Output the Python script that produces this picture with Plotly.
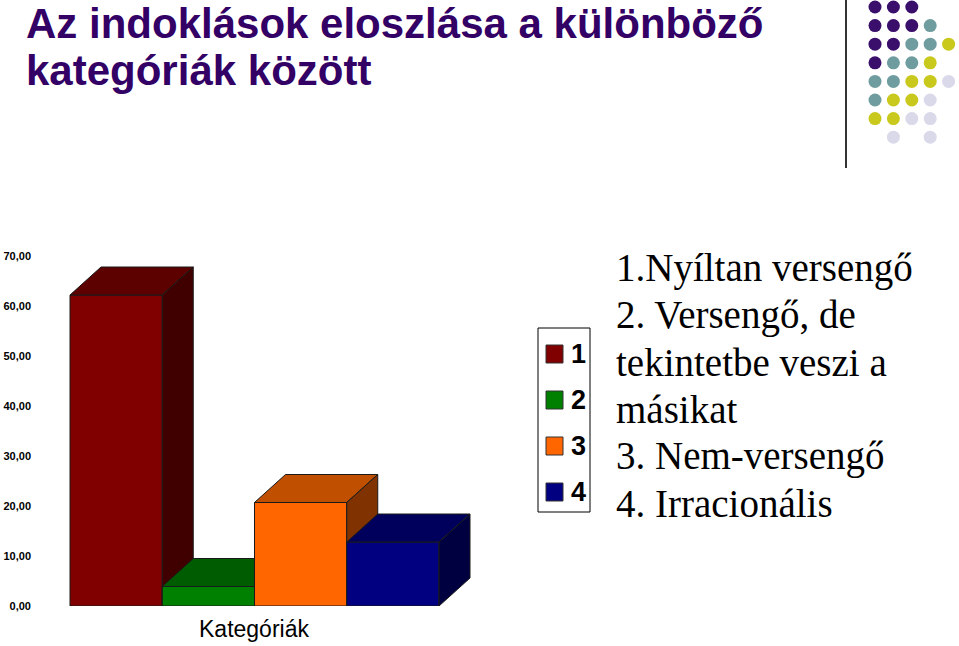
import plotly.graph_objects as go

# adatok
categories = ["1", "2", "3", "4"]
values = [62.2, 3.9, 20.7, 12.8]
front_colors = ["#800000", "#008000", "#ff6600", "#000080"]
top_colors = ["#5c0000", "#005c00", "#c04f00", "#00005c"]
side_colors = ["#400000", "#004000", "#803300", "#000040"]
y_ticks = [0, 10, 20, 30, 40, 50, 60, 70]
y_tick_text = ["0,00", "10,00", "20,00", "30,00", "40,00", "50,00", "60,00", "70,00"]
title_lines = ["Az indoklások eloszlása a különböző", "kategóriák között"]
descriptions = ["1.Nyíltan versengő", "2. Versengő, de", "tekintetbe veszi a",
                "másikat", "3. Nem-versengő", "4. Irracionális"]

# díszítő pöttyök (P=lila, T=kékeszöld, Y=sárga, L=levendula)
dot_rows = ["PPP..", "PPPT.", "PPTTY", "PTTY.", "TTYYL", "TYYL.", "YYLL.", ".L.L."]
dot_colors = {"P": "#3a0f6b", "T": "#6f9d9f", "Y": "#c9c81c", "L": "#d9d9ea"}

W, H = 959, 646
L, R, T, B = 32, 472, 256, 606
ppu = 92.25            # pixel / kategória
x_lo = 0.5 - (70 - L) / ppu
x_hi = x_lo + (R - L) / ppu
dx = 31 / ppu          # mélység x irányban
dy = 28 / 5            # mélység y irányban


def px(p):
    return (p - L) / (R - L)


def py(p):
    return (B - p) / (B - T)


fig = go.Figure()

# 3D oszlopok: balról jobbra, minden oszlop eleje, teteje, oldala
for i, (v, fc, tc, sc) in enumerate(zip(values, front_colors, top_colors, side_colors)):
    x0, x1 = i + 0.5, i + 1.5
    faces = [
        ([x0, x1, x1, x0, x0], [0, 0, v, v, 0], fc),
        ([x0, x1, x1 + dx, x0 + dx, x0], [v, v, v + dy, v + dy, v], tc),
        ([x1, x1 + dx, x1 + dx, x1, x1], [0, dy, v + dy, v, 0], sc),
    ]
    for fx, fy, col in faces:
        fig.add_trace(go.Scatter(
            x=fx, y=fy, fill="toself", fillcolor=col, mode="lines",
            line=dict(color="#1a1a1a", width=1), showlegend=False, hoverinfo="skip",
        ))

fig.update_xaxes(range=[x_lo, x_hi], visible=False, fixedrange=True)
fig.update_yaxes(range=[0, 70], tickvals=y_ticks, ticktext=y_tick_text, automargin=False,
                 showgrid=False, zeroline=False, showline=False, ticks="", fixedrange=True,
                 tickfont=dict(family="Liberation Sans Narrow, Arial Narrow, Liberation Sans",
                               size=11, color="black", weight="bold"))

shapes = []
annotations = []

# jelmagyarázat
shapes.append(dict(type="rect", xref="paper", yref="paper",
                   x0=px(538), x1=px(590), y0=py(512), y1=py(328),
                   line=dict(color="black", width=1), fillcolor="white"))
for i, (cat, col) in enumerate(zip(categories, front_colors)):
    cy = 354 + i * 46
    shapes.append(dict(type="rect", xref="paper", yref="paper",
                       x0=px(546), x1=px(563), y0=py(cy + 9), y1=py(cy - 9),
                       line=dict(color="#333333", width=1), fillcolor=col))
    annotations.append(dict(text=cat, xref="paper", yref="paper", x=px(569), y=py(cy),
                            xanchor="left", yanchor="middle", showarrow=False,
                            font=dict(family="Liberation Sans Narrow, Arial Narrow, Liberation Sans",
                                      size=27, color="black", weight="bold")))

# cím
title_font = dict(family="Liberation Sans, Arial", size=42, color="#330066", weight="bold")
for i, line in enumerate(title_lines):
    annotations.append(dict(text=line, xref="paper", yref="paper",
                            x=px(24), y=py(23 + i * 47), xanchor="left", yanchor="middle",
                            showarrow=False, font=title_font))

# tengelycím
annotations.append(dict(text="Kategóriák", xref="paper", yref="paper",
                        x=px(254), y=py(629), xanchor="center", yanchor="middle",
                        showarrow=False,
                        font=dict(family="Liberation Sans Narrow, Arial Narrow, Liberation Sans",
                                  size=23, color="black")))

# magyarázó szöveg
for i, line in enumerate(descriptions):
    annotations.append(dict(text=line, xref="paper", yref="paper",
                            x=px(614), y=py(268 + i * 47), xanchor="left", yanchor="middle",
                            showarrow=False,
                            font=dict(family="Liberation Serif, Times New Roman",
                                      size=39, color="black")))

# díszítés jobb felül
shapes.append(dict(type="line", xref="paper", yref="paper",
                   x0=px(846), x1=px(846), y0=py(0), y1=py(168),
                   line=dict(color="#333333", width=2)))
for r, row in enumerate(dot_rows):
    for c, ch in enumerate(row):
        if ch == ".":
            continue
        cx = 875 + c * 18.4
        cy = 7 + r * 18.6
        shapes.append(dict(type="circle", xref="paper", yref="paper",
                           x0=px(cx - 6.5), x1=px(cx + 6.5), y0=py(cy + 6.5), y1=py(cy - 6.5),
                           line=dict(width=0), fillcolor=dot_colors[ch]))

fig.update_layout(
    width=W, height=H,
    margin=dict(l=L, r=W - R, t=T, b=H - B),
    plot_bgcolor="white", paper_bgcolor="white",
    shapes=shapes, annotations=annotations,
    showlegend=False,
)

fig.write_html("out.html", config={"displayModeBar": False},
               post_script="document.body.style.margin = '0';")
